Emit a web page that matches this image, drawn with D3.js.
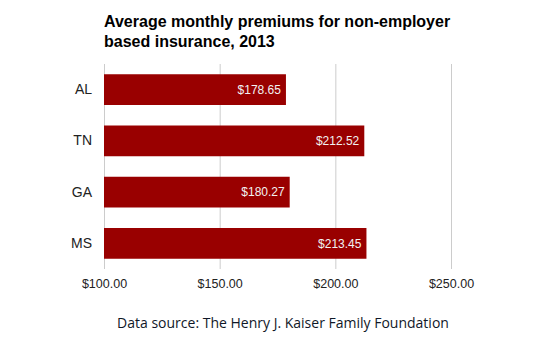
<!DOCTYPE html>
<html>
<head>
<meta charset="utf-8">
<script src="https://cdn.jsdelivr.net/npm/d3@7"></script>
<style>
  body { margin: 0; background: #fff; }
  svg { display: block; }
</style>
</head>
<body>
<div id="chart"></div>
<script>
// data
const states = ["AL", "TN", "GA", "MS"];
const premiums = [178.65, 212.52, 180.27, 213.45];
const tickValues = [100, 150, 200, 250];

const width = 555, height = 361;
const plotLeft = 104, plotRight = 451, plotTop = 64, plotBottom = 269;

let svg = d3.select("#chart").append("svg")
    .attr("width", width)
    .attr("height", height);

let x = d3.scaleLinear()
    .domain([100, 250])
    .range([plotLeft, plotRight]);

let y = d3.scaleBand()
    .domain(states)
    .range([plotTop, plotBottom])
    .paddingInner(0.4)
    .paddingOuter(0.2);

let fmt = d3.format("$.2f");

// gridlines + tick labels
let xAxis = d3.axisBottom(x)
    .tickValues(tickValues)
    .tickSize(-(plotBottom - plotTop))
    .tickPadding(10)
    .tickFormat(fmt);

let gx = svg.append("g")
    .attr("transform", "translate(0," + plotBottom + ")")
    .call(xAxis);
gx.select(".domain").remove();
gx.selectAll(".tick line").attr("stroke", "#ccc");
gx.selectAll(".tick text")
    .attr("fill", "#222")
    .style("font-family", "Liberation Sans, Arial, sans-serif")
    .style("font-size", "12.5px");

// category labels
let yAxis = d3.axisLeft(y).tickSize(0).tickPadding(12);
let gy = svg.append("g")
    .attr("transform", "translate(" + plotLeft + ",0)")
    .call(yAxis);
gy.select(".domain").remove();
gy.selectAll(".tick text")
    .attr("fill", "#222")
    .style("font-family", "Liberation Sans, Arial, sans-serif")
    .style("font-size", "14px");

// bars
svg.selectAll(".bar")
    .data(states)
    .enter()
    .append("rect").classed("bar", true)
    .attr("x", x(100))
    .attr("y", function (d) { return y(d); })
    .attr("width", function (d, i) { return x(premiums[i]) - x(100); })
    .attr("height", y.bandwidth())
    .attr("fill", "#990000");

// value labels
svg.selectAll(".val")
    .data(states)
    .enter()
    .append("text").classed("val", true)
    .attr("x", function (d, i) { return x(premiums[i]) - 5; })
    .attr("y", function (d) { return y(d) + y.bandwidth() / 2; })
    .attr("dy", "0.35em")
    .attr("text-anchor", "end")
    .attr("fill", "#f2f2f2")
    .style("font-family", "Liberation Sans, Arial, sans-serif")
    .style("font-size", "12px")
    .text(function (d, i) { return fmt(premiums[i]); });

// title
let title = svg.append("text")
    .attr("x", plotLeft)
    .attr("y", 27)
    .attr("fill", "#000")
    .style("font-family", "Liberation Sans, Arial, sans-serif")
    .style("font-size", "16px")
    .style("font-weight", "bold");
title.append("tspan").attr("x", plotLeft).text("Average monthly premiums for non-employer");
title.append("tspan").attr("x", plotLeft).attr("dy", 20).text("based insurance, 2013");

// source note
svg.append("text")
    .attr("x", 283)
    .attr("y", 328)
    .attr("text-anchor", "middle")
    .attr("fill", "#101828")
    .style("font-family", "Open Sans, Noto Sans, sans-serif")
    .style("font-size", "14px")
    .text("Data source: The Henry J. Kaiser Family Foundation");
</script>
</body>
</html>
